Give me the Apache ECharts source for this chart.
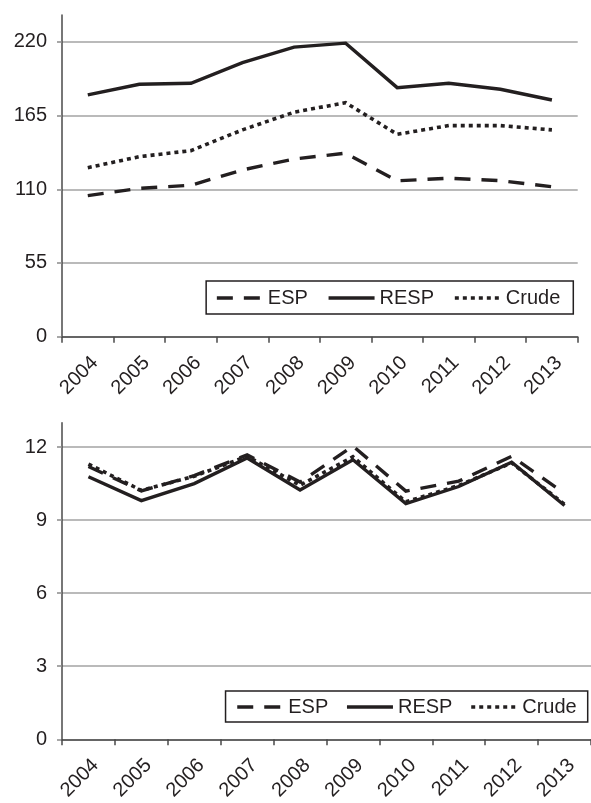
<!DOCTYPE html>
<html>
<head>
<meta charset="utf-8">
<script src="https://cdn.jsdelivr.net/npm/echarts@6/dist/echarts.min.js"></script>
<style>
html,body{margin:0;padding:0;background:#fff;}
#c{width:591px;height:803px;}
</style>
</head>
<body>
<div id="c"></div>
<script>
const years = ['2004','2005','2006','2007','2008','2009','2010','2011','2012','2013'];
const seriesNames = ['ESP','RESP','Crude'];

// Top panel
const topESP   = [105.2, 110.7, 113.0, 124.4, 132.6, 136.9, 116.3, 118.2, 116.4, 111.9];
const topRESP  = [180.4, 188.3, 189.1, 204.5, 216.0, 219.0, 185.8, 189.1, 184.6, 176.6];
const topCrude = [126.1, 134.3, 138.8, 154.3, 167.5, 174.6, 151.0, 157.5, 157.5, 154.3];
const topTicks = [0, 55, 110, 165, 220];

// Bottom panel
const botESP   = [11.2, 10.2, 10.83, 11.68, 10.56, 12.04, 10.19, 10.6, 11.62, 10.1];
const botRESP  = [10.78, 9.8, 10.5, 11.55, 10.24, 11.48, 9.68, 10.38, 11.38, 9.6];
const botCrude = [11.3, 10.22, 10.8, 11.62, 10.43, 11.6, 9.75, 10.42, 11.35, 9.65];
const botTicks = [0, 3, 6, 9, 12];

const FONT = '"Liberation Sans", Arial, Helvetica, sans-serif';
const TXT = '#231f20';
const LINE = '#231f20';
const GRID = '#a3a3a3';
const AXIS = '#4a4a4a';

const styles = {
  ESP:   { type: [16, 11], width: 3.4 },
  RESP:  { type: 'solid', width: 3.4 },
  Crude: { type: [4, 4], width: 3.6 }
};

function mkX(gi) {
  return {
    type: 'category', gridIndex: gi, data: years, boundaryGap: true,
    axisLine: { lineStyle: { color: AXIS, width: 1.5 } },
    axisTick: { show: true, length: 6, alignWithLabel: false, lineStyle: { color: AXIS, width: 1.5 } },
    axisLabel: { rotate: 45, margin: 16, fontSize: 20, color: TXT, fontFamily: FONT, interval: 0, verticalAlign: 'top' },
    splitLine: { show: false }
  };
}
function mkY(gi, max, interval, ticks) {
  return {
    type: 'value', gridIndex: gi, min: 0, max: max, interval: interval,
    axisLine: { show: true, lineStyle: { color: AXIS, width: 1.5 } },
    axisTick: { show: true, length: 5, lineStyle: { color: '#8a8a8a', width: 1.5 }, customValues: ticks },
    axisLabel: { margin: 15, fontSize: 20, color: TXT, fontFamily: FONT, customValues: ticks },
    splitLine: { show: true, lineStyle: { color: [GRID, GRID, GRID, GRID, GRID, 'rgba(0,0,0,0)'], width: 1.5 } }
  };
}
function mkSeries(name, data, gi) {
  return {
    name: name, type: 'line', xAxisIndex: gi, yAxisIndex: gi, data: data,
    symbol: 'none', smooth: false, silent: true, animation: false,
    lineStyle: { color: LINE, width: styles[name].width, type: styles[name].type, cap: 'butt', join: 'miter' },
    itemStyle: { color: LINE }
  };
}
function mkLegend(right, top, gap, padding) {
  return {
    data: seriesNames.map(n => ({ name: n, lineStyle: { width: styles[n].width, type: styles[n].type, color: LINE } })),
    right: right, top: top, orient: 'horizontal',
    itemWidth: 46, itemHeight: 14, itemGap: gap, padding: padding,
    borderColor: '#231f20', borderWidth: 1.5, backgroundColor: '#fff',
    textStyle: { fontSize: 20, color: TXT, fontFamily: FONT },
    lineStyle: { width: 3.4 },
    itemStyle: { opacity: 0 },
    selectedMode: false
  };
}

const chart = echarts.init(document.getElementById('c'), null, { renderer: 'canvas' });
chart.setOption({
  animation: false,
  backgroundColor: '#fff',
  textStyle: { fontFamily: FONT },
  grid: [
    { left: 62, right: 13.3, top: 15, height: 321.7, containLabel: false },
    { left: 62, right: -1, top: 422.7, height: 322.3, containLabel: false }
  ],
  xAxis: [mkX(0), mkX(1)],
  yAxis: [mkY(0, 240, 55, topTicks), mkY(1, 13, 3, botTicks)],
  legend: [
    mkLegend(17.7, 281, 19, [7, 13, 6, 9]),
    mkLegend(3.3, 691, 17, [6, 11, 5, 10])
  ],
  series: [
    mkSeries('Crude', topCrude, 0),
    mkSeries('ESP', topESP, 0),
    mkSeries('RESP', topRESP, 0),
    mkSeries('Crude', botCrude, 1),
    mkSeries('ESP', botESP, 1),
    mkSeries('RESP', botRESP, 1)
  ]
});
</script>
</body>
</html>
